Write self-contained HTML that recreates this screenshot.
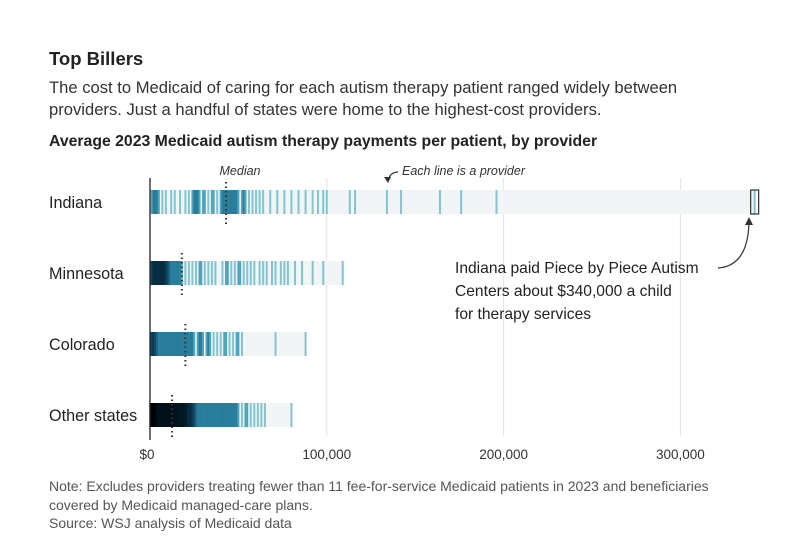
<!DOCTYPE html>
<html><head><meta charset="utf-8">
<style>
body{margin:0;background:#fff;font-family:"Liberation Sans",sans-serif;}
#c{position:relative;width:806px;height:552px;}
.t{position:absolute;color:#222;white-space:nowrap;}
</style></head><body>
<div id="c">
<div class="t" style="left:49px;top:48px;font-size:18.5px;font-weight:bold">Top Billers</div>
<div class="t" style="left:49px;top:77px;font-size:16.6px;line-height:22px;color:#333">The cost to Medicaid of caring for each autism therapy patient ranged widely between<br>providers. Just a handful of states were home to the highest-cost providers.</div>
<div class="t" style="left:49px;top:133px;font-size:15.8px;font-weight:bold">Average 2023 Medicaid autism therapy payments per patient, by provider</div>
<svg id="s" width="806" height="552" style="position:absolute;left:0;top:0"></svg>
<div class="t" style="left:455px;top:257px;font-size:15.6px;line-height:23px;color:#222">Indiana paid Piece by Piece Autism<br>Centers about $340,000 a child<br>for therapy services</div>
<div class="t" style="left:49px;top:477px;font-size:14px;line-height:18.5px;color:#555">Note: Excludes providers treating fewer than 11 fee-for-service Medicaid patients in 2023 and beneficiaries<br>covered by Medicaid managed-care plans.<br>Source: WSJ analysis of Medicaid data</div>
</div>
<script>
const categories=["Indiana","Minnesota","Colorado","Other states"];
const medians=[43,18,20,12.5];
const maxes=[342,110,88,80];
const indiana=[1,2,3,4,5,7,9,12,14,17,20,22,24,25,26,27,28,30,31,33,35,36,38,40,41,42,43,44,45,46,47,48,49,50,52,53,54,56,58,60,62,64,68,72,76,80,84,88,92,95,98,100,113,116,134,142,164,176,196,342];
const minnesota=[0.5,1,1.5,2,2.5,3,3.5,4,4.5,5,5.5,6,6.5,7,7.5,8,8.5,9,9.5,10,11,12,13,14,15,16,17,18,20,22,24,26,28,29,31,33,35,37,41,43,44,46,48,50,51,53,55,57,59,62,64,66,69,71,74,76,78,82,86,92,98,109];
const colorado=[0.5,1,1.5,2,2.5,3,4,5,6,7,8,9,10,11,12,13,14,15,16,17,18,19,20,21,22,23,24,25,27,28,29,30,32,33,34,36,38,40,42,43,45,47,49,50,52,71,88];
const others=[0.2,0.5,0.8,1,1.2,1.5,1.8,2,2.2,2.5,2.8,3,3.3,3.6,4,4.3,4.6,5,5.3,5.6,6,6.3,6.6,7,7.3,7.6,8,8.3,8.6,9,9.3,9.6,10,10.3,10.6,11,11.3,11.6,12,12.3,12.6,13,13.3,13.6,14,14.3,14.6,15,15.3,15.6,16,16.3,16.6,17,17.3,17.6,18,18.3,18.6,19,19.3,19.6,20,20.4,20.8,21.2,21.6,22,22.5,23,23.5,24,24.5,25,26,27,28,29,30,31,32,33,34,35,36,37,38,39,40,41,42,43,44,45,46,47,48,49,50,52,54,55,57,59,61,63,65,80];
const series=[indiana,minnesota,colorado,others];
const tickVals=[0,100,200,300];
const tickLabels=["$0","100,000","200,000","300,000"];
const NS="http://www.w3.org/2000/svg";
const svg=document.getElementById('s');
const x=v=>150+v*1.768;
const rowY=i=>190+i*71;
const BH=24;
function mk(t,a){const e=document.createElementNS(NS,t);for(const k in a)e.setAttribute(k,a[k]);svg.appendChild(e);return e;}
function dens(c){ // colour by local density
  const stops=[[1,[130,196,210]],[2,[80,165,188]],[3,[40,125,155]],[5,[15,75,105]],[8,[5,30,45]],[12,[0,0,0]]];
  if(c<=1)return 'rgb(130,196,210)';
  for(let k=1;k<stops.length;k++){if(c<=stops[k][0]){const a=stops[k-1],b=stops[k],f=(c-a[0])/(b[0]-a[0]);return 'rgb('+a[1].map((q,j)=>Math.round(q+(b[1][j]-q)*f)).join(',')+')';}}
  return 'rgb(0,0,0)';
}
tickVals.forEach((v,i)=>{
  if(v>0){const g=mk('line',{x1:x(v),x2:x(v),y1:178,y2:436,stroke:'#e4e4e4','stroke-width':1});
  
  }
  const t=mk('text',{x:v==0?x(v)-3:x(v),y:459,'font-size':13.5,fill:'#333','text-anchor':'middle','font-family':'Liberation Sans, sans-serif'});
  t.textContent=tickLabels[i];
  
  
});
categories.forEach((c,i)=>{
  const y=rowY(i);
  const lab=mk('text',{x:49,y:y+18,'font-size':16.2,fill:'#222','font-family':'Liberation Sans, sans-serif'});
  lab.textContent=c;
  
  
  const b=mk('rect',{x:x(0),y:y,width:x(maxes[i])-x(0),height:BH,fill:'#f2f5f5'});
  
  
  const vals=series[i];
  vals.forEach(v=>{
    const cnt=vals.filter(w=>Math.abs(w-v)<=1.6).length;
    const r=mk('rect',{x:x(v)-1,y:y,width:2,height:BH,fill:dens(cnt)});
    
    
  });
  const m=mk('line',{x1:x(medians[i]),x2:x(medians[i]),y1:y-8,y2:y+BH+12,stroke:'#333','stroke-width':2,'stroke-dasharray':'1.5 3'});
  
  
});
const hi=mk('rect',{x:x(342)-4,y:rowY(0),width:8,height:BH,fill:'none',stroke:'#333','stroke-width':1.2});


const ax=mk('line',{x1:150,x2:150,y1:178,y2:440,stroke:'#222','stroke-width':1.3});


const mt=mk('text',{x:x(medians[0])+14,y:175,'font-size':12.5,'font-style':'italic',fill:'#333','text-anchor':'middle','font-family':'Liberation Sans, sans-serif'});
mt.textContent='Median';


const et=mk('text',{x:402,y:175,'font-size':12.5,'font-style':'italic',fill:'#333','font-family':'Liberation Sans, sans-serif'});
et.textContent='Each line is a provider';


const a1=mk('path',{d:'M398,172 Q390,172 388,181',fill:'none',stroke:'#333','stroke-width':1.2});


const a1h=mk('path',{d:'M384,177 L388,183 L391,177 Z',fill:'#333'});


const a2=mk('path',{d:'M718,268 Q748,266 749,222',fill:'none',stroke:'#333','stroke-width':1.2});


const a2h=mk('path',{d:'M745,225 L749,217 L753,225 Z',fill:'#333'});


</script>
</body></html>
